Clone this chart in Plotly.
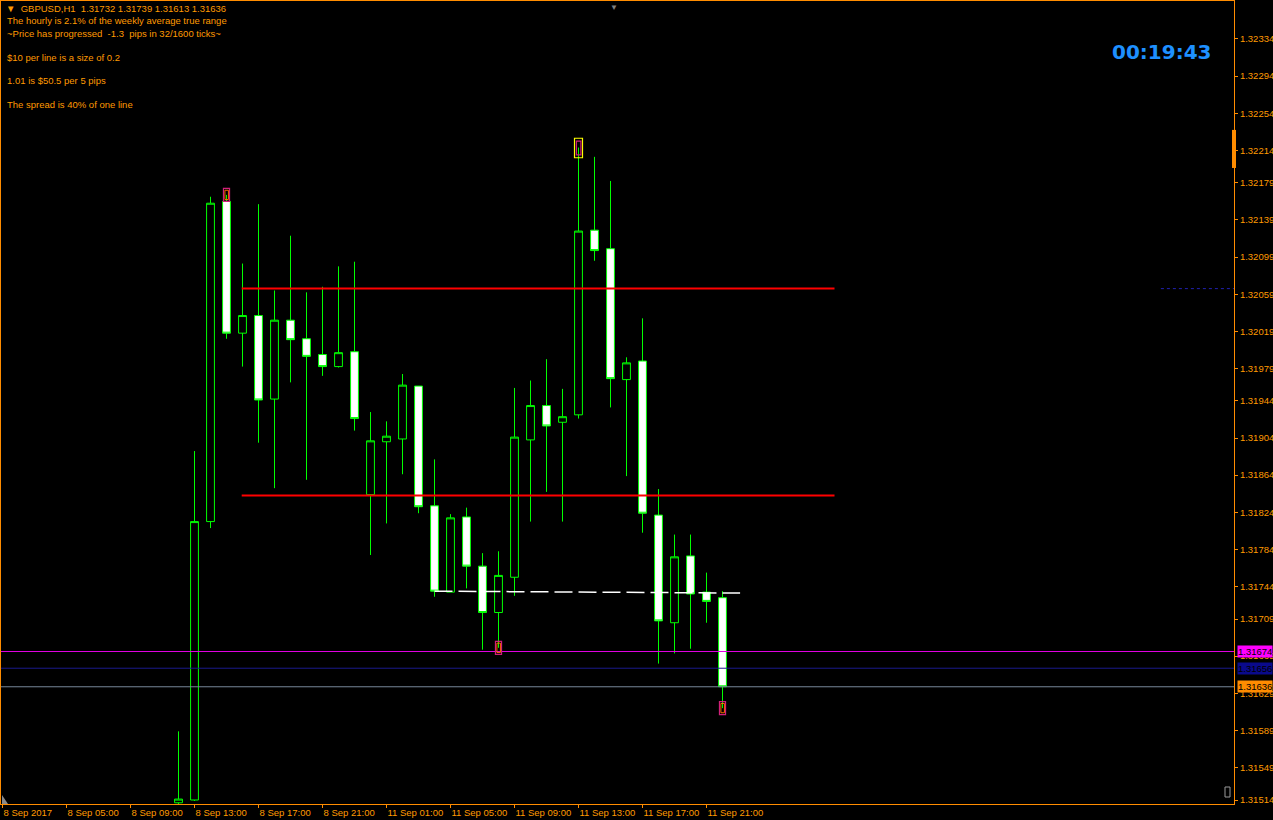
import plotly.graph_objects as go

# ---------------- data ----------------
times = ["8 Sep 12:00", "8 Sep 13:00", "8 Sep 14:00", "8 Sep 15:00", "8 Sep 16:00", "8 Sep 17:00",
         "8 Sep 18:00", "8 Sep 19:00", "8 Sep 20:00", "8 Sep 21:00", "8 Sep 22:00", "8 Sep 23:00",
         "11 Sep 00:00", "11 Sep 01:00", "11 Sep 02:00", "11 Sep 03:00", "11 Sep 04:00", "11 Sep 05:00",
         "11 Sep 06:00", "11 Sep 07:00", "11 Sep 08:00", "11 Sep 09:00", "11 Sep 10:00", "11 Sep 11:00",
         "11 Sep 12:00", "11 Sep 13:00", "11 Sep 14:00", "11 Sep 15:00", "11 Sep 16:00", "11 Sep 17:00",
         "11 Sep 18:00", "11 Sep 19:00", "11 Sep 20:00", "11 Sep 21:00", "11 Sep 22:00"]
opens = [1.31511, 1.31514, 1.31814, 1.32159, 1.32017, 1.32036, 1.31946, 1.32031, 1.32011, 1.31994,
         1.31981, 1.31997, 1.31843, 1.31900, 1.31903, 1.31960, 1.31831, 1.31738, 1.31819, 1.31766,
         1.31716, 1.31754, 1.31902, 1.31939, 1.31921, 1.31929, 1.32128, 1.32108, 1.31967, 1.31987,
         1.31821, 1.31705, 1.31777, 1.31738, 1.31732]
highs = [1.31588, 1.31890, 1.32164, 1.32166, 1.32092, 1.32156, 1.32063, 1.32122, 1.32061, 1.32067,
         1.32089, 1.32094, 1.31932, 1.31922, 1.31973, 1.31960, 1.31881, 1.31822, 1.31829, 1.31780,
         1.31782, 1.31958, 1.31966, 1.31989, 1.31957, 1.32217, 1.32207, 1.32181, 1.31991, 1.32033,
         1.31849, 1.31800, 1.31800, 1.31759, 1.31739]
lows = [1.31505, 1.31513, 1.31807, 1.32011, 1.31981, 1.31899, 1.31850, 1.31964, 1.31859, 1.31971,
        1.31980, 1.31912, 1.31778, 1.31812, 1.31865, 1.31823, 1.31733, 1.31738, 1.31742, 1.31676,
        1.31678, 1.31734, 1.31814, 1.31846, 1.31814, 1.31925, 1.32095, 1.31937, 1.31863, 1.31802,
        1.31661, 1.31672, 1.31677, 1.31705, 1.31613]
closes = [1.31515, 1.31814, 1.32157, 1.32017, 1.32036, 1.31945, 1.32031, 1.32010, 1.31992, 1.31981,
          1.31996, 1.31925, 1.31901, 1.31906, 1.31961, 1.31830, 1.31739, 1.31818, 1.31766, 1.31716,
          1.31756, 1.31905, 1.31939, 1.31917, 1.31927, 1.32127, 1.32106, 1.31968, 1.31985, 1.31823,
          1.31707, 1.31776, 1.31736, 1.31728, 1.31636]

# x tick labels (bar offsets relative to first bar "8 Sep 12:00")
xtick_pos = [-11, -7, -3, 1, 5, 9, 13, 17, 21, 25, 29, 33]
xtick_labels = ["8 Sep 2017", "8 Sep 05:00", "8 Sep 09:00", "8 Sep 13:00", "8 Sep 17:00", "8 Sep 21:00",
                "11 Sep 01:00", "11 Sep 05:00", "11 Sep 09:00", "11 Sep 13:00", "11 Sep 17:00", "11 Sep 21:00"]
ytick_labels = ["1.32334", "1.32294", "1.32254", "1.32214", "1.32179", "1.32139", "1.32099", "1.32059",
                "1.32019", "1.31979", "1.31944", "1.31904", "1.31864", "1.31824", "1.31784", "1.31744",
                "1.31709", "1.31669", "1.31629", "1.31589", "1.31549", "1.31514"]

red_levels = [1.32065, 1.31842]
red_span = [3.95, 41.0]
dashed_trend = [(16.0, 1.31739), (35.1, 1.31737)]
full_lines = [1.31674, 1.31656, 1.31636]
full_line_colors = ["#E000E0", "#1A1A8C", "#778899"]
price_tags = ["1.31674", "1.31656", "1.31636"]
price_tag_bg = ["#FF00FF", "#0A0A8C", "#FF8C00"]
high_marks = [3, 25]
low_marks = [20, 34]
info_lines = ["The hourly is 2.1% of the weekly average true range",
              "~Price has progressed  -1.3  pips in 32/1600 ticks~",
              "$10 per line is a size of 0.2",
              "1.01 is $50.5 per 5 pips",
              "The spread is 40% of one line"]
timer_text = "00:19:43"

# ---------------- figure ----------------
ORANGE = "#FF8C00"
TXT = "#FF9A00"
FONT = "Liberation Sans"
W, H = 1273, 820
L, T, R, B = 1, 1, 39, 16
PW, PH = W - L - R, H - T - B
HALF = 0.5 / 16.0
XR = [-11.0625 - HALF, 66.0 - HALF]
YR = [1.315097, 1.323749]

def px(xp):
    return (xp - L) / PW

def py(yp):
    return 1 - (yp - T) / PH

xs = list(range(len(times)))

fig = go.Figure()
fig.add_trace(go.Candlestick(
    x=xs, open=opens, high=highs, low=lows, close=closes,
    increasing=dict(line=dict(color="#00FF00", width=1), fillcolor="#000000"),
    decreasing=dict(line=dict(color="#00FF00", width=1), fillcolor="#FFFFFF"),
    hoverinfo="skip", showlegend=False, whiskerwidth=0,
))

shapes = []
for lv in red_levels:
    shapes.append(dict(type="line", xref="x", yref="y", x0=red_span[0], x1=red_span[1], y0=lv, y1=lv,
                       line=dict(color="#FF0000", width=2), layer="above"))
shapes.append(dict(type="line", xref="x", yref="y", x0=dashed_trend[0][0], y0=dashed_trend[0][1],
                   x1=dashed_trend[1][0], y1=dashed_trend[1][1],
                   line=dict(color="#FFFFFF", width=1.5, dash="18px,6px"), layer="above"))
for lv, c in zip(full_lines, full_line_colors):
    shapes.append(dict(type="line", xref="paper", yref="y", x0=0, x1=1, y0=lv, y1=lv,
                       line=dict(color=c, width=1), layer="above"))
shapes.append(dict(type="line", xref="x", yref="y", x0=61.4, x1=66.0, y0=red_levels[0], y1=red_levels[0],
                   line=dict(color="#2020B0", width=1, dash="dot"), layer="above"))
for i in high_marks + low_marks:
    p = highs[i] if i in high_marks else lows[i]
    if i == 25:
        shapes.append(dict(type="rect", xref="x", yref="y", x0=i - 0.25, x1=i + 0.25, y0=p - 0.00011,
                           y1=p + 0.0001, line=dict(color="#FFFF00", width=1.2), layer="above"))
        shapes.append(dict(type="rect", xref="x", yref="y", x0=i - 0.13, x1=i + 0.15, y0=p - 0.00008,
                           y1=p + 0.00007, line=dict(color="#D0207A", width=1.2), layer="above"))
    else:
        shapes.append(dict(type="rect", xref="x", yref="y", x0=i - 0.19, x1=i + 0.19, y0=p - 0.00007,
                           y1=p + 0.00007, line=dict(color="#D0207A", width=1.2), layer="above"))
        shapes.append(dict(type="rect", xref="x", yref="y", x0=i - 0.1, x1=i + 0.12, y0=p - 0.00005,
                           y1=p + 0.00005, line=dict(color="#FF6A00", width=1), layer="above"))
# orange marker on the price axis
shapes.append(dict(type="rect", xref="paper", yref="y", x0=1 - 2 / PW, x1=1 + 2 / PW, y0=1.32195, y1=1.32236,
                   fillcolor=ORANGE, line=dict(width=0), layer="above"))
# small grey widgets in the corners
shapes.append(dict(type="rect", xref="paper", yref="paper", x0=px(1225), x1=px(1230), y0=py(797), y1=py(787),
                   line=dict(color="#9A9A9A", width=1), layer="above"))
shapes.append(dict(type="path", xref="paper", yref="paper",
                   path="M {0},{1} L {0},{2} L {3},{1} Z".format(px(2), py(804), py(795), px(8)),
                   fillcolor="#8A8A8A", line=dict(width=0), layer="above"))

annotations = []
hdr = "▼  GBPUSD,H1  {:.5f} {:.5f} {:.5f} {:.5f}".format(opens[-1], highs[-1], lows[-1], closes[-1])
annotations.append(dict(text=hdr, xref="paper", yref="paper", x=px(4), y=py(8), xanchor="left",
                        yanchor="middle", showarrow=False, font=dict(family=FONT, size=9.5, color=TXT)))
info_y = [21, 33, 57, 81, 105]
for t, yy in zip(info_lines, info_y):
    annotations.append(dict(text=t, xref="paper", yref="paper", x=px(5), y=py(yy), xanchor="left",
                            yanchor="middle", showarrow=False, font=dict(family=FONT, size=9.5, color=TXT)))
annotations.append(dict(text="<b>" + timer_text + "</b>", xref="paper", yref="paper", x=px(1162), y=py(52),
                        xanchor="center", yanchor="middle", showarrow=False,
                        font=dict(family="DejaVu Sans", size=20, color="#1E90FF")))
for lv, t, bg in zip(full_lines, price_tags, price_tag_bg):
    annotations.append(dict(text=t, xref="paper", yref="y", x=1, y=lv, xanchor="left", yanchor="middle",
                            xshift=3, showarrow=False, bgcolor=bg, borderpad=0,
                            font=dict(family=FONT, size=9.5, color="#000000")))
annotations.append(dict(text="▼", xref="paper", yref="paper", x=px(614), y=1, xanchor="center", yanchor="top",
                        yshift=2, showarrow=False, font=dict(size=8, color="#808080")))

fig.update_layout(
    width=W, height=H,
    margin=dict(l=L, r=R, t=T, b=B, autoexpand=False),
    paper_bgcolor="#000000", plot_bgcolor="#000000",
    shapes=shapes, annotations=annotations,
    showlegend=False,
    xaxis=dict(range=XR, rangeslider=dict(visible=False), showgrid=False, zeroline=False,
               showline=True, linecolor=ORANGE, linewidth=1, mirror=True, automargin=False,
               ticks="outside", ticklen=3, tickcolor=ORANGE, tickangle=0,
               tickvals=xtick_pos, ticktext=xtick_labels, ticklabelposition="outside right",
               tickfont=dict(family=FONT, size=9.5, color=TXT), fixedrange=True),
    yaxis=dict(range=YR, side="right", showgrid=False, zeroline=False,
               showline=True, linecolor=ORANGE, linewidth=1, mirror=True, automargin=False,
               ticks="outside", ticklen=3, tickcolor=ORANGE,
               tickvals=[float(v) for v in ytick_labels], ticktext=ytick_labels,
               tickfont=dict(family=FONT, size=9.5, color=TXT), fixedrange=True),
)

fig.write_html("out.html", config={"displayModeBar": False},
               post_script="document.body.style.margin='0';document.body.style.background='#000';")
